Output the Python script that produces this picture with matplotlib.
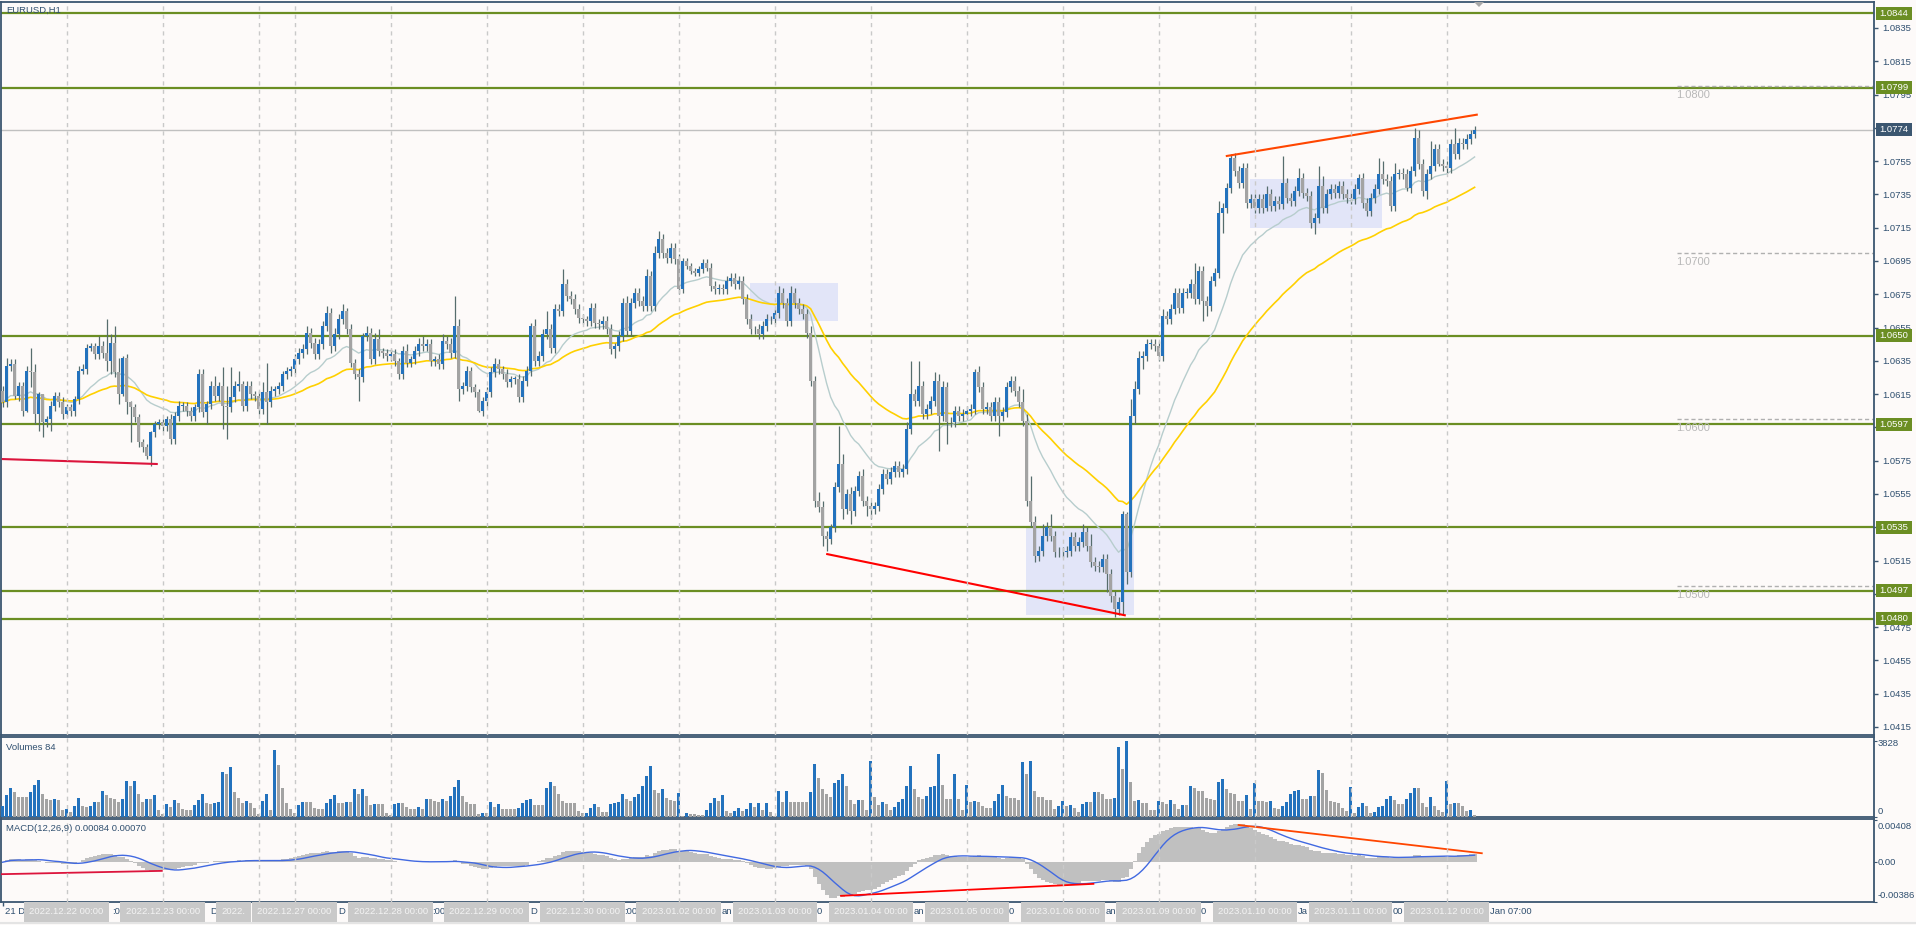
import matplotlib
matplotlib.use("Agg")
import matplotlib.pyplot as plt
import numpy as np
import pandas as pd
from matplotlib.patches import Rectangle, Polygon
from matplotlib.lines import Line2D
from matplotlib.font_manager import FontProperties
from matplotlib.transforms import blended_transform_factory as btf
from datetime import datetime, timedelta

plt.rcParams['font.family'] = ['Liberation Sans', 'DejaVu Sans']

# ------------------------------------------------------------------ data
symbol_label = "EURUSD,H1"
volume_label = "Volumes 84"
macd_label = "MACD(12,26,9) 0.00084 0.00070"

first_open = 1.0617
close = [
    1.0610, 1.0632, 1.0633, 1.0614, 1.0620, 1.0605, 1.0629, 1.0628, 1.0603, 1.0615,
    1.0598, 1.0600, 1.0608, 1.0614, 1.0610, 1.0603, 1.0607, 1.0605, 1.0612, 1.0629,
    1.0630, 1.0643, 1.0644, 1.0639, 1.0644, 1.0640, 1.0635, 1.0646, 1.0628, 1.0615,
    1.0637, 1.0610, 1.0607, 1.0601, 1.0586, 1.0583, 1.0578, 1.0592, 1.0597, 1.0598,
    1.0596, 1.0600, 1.0588, 1.0602, 1.0608, 1.0608, 1.0605, 1.0602, 1.0607, 1.0627,
    1.0604, 1.0609, 1.0620, 1.0614, 1.0620, 1.0608, 1.0607, 1.0613, 1.0620, 1.0621,
    1.0608, 1.0620, 1.0615, 1.0614, 1.0606, 1.0616, 1.0610, 1.0617, 1.0618, 1.0620,
    1.0627, 1.0629, 1.0630, 1.0636, 1.0640, 1.0642, 1.0652, 1.0646, 1.0639, 1.0645,
    1.0656, 1.0664, 1.0644, 1.0651, 1.0660, 1.0665, 1.0654, 1.0634, 1.0627, 1.0625,
    1.0650, 1.0652, 1.0636, 1.0648, 1.0641, 1.0640, 1.0638, 1.0639, 1.0635, 1.0627,
    1.0641, 1.0634, 1.0636, 1.0641, 1.0645, 1.0644, 1.0645, 1.0635, 1.0636, 1.0633,
    1.0647, 1.0645, 1.0640, 1.0656, 1.0618, 1.0620, 1.0629, 1.0619, 1.0616, 1.0605,
    1.0611, 1.0616, 1.0628, 1.0633, 1.0630, 1.0627, 1.0622, 1.0624, 1.0624, 1.0613,
    1.0623, 1.0629, 1.0656, 1.0635, 1.0638, 1.0651, 1.0654, 1.0643, 1.0666, 1.0665,
    1.0681, 1.0674, 1.0672, 1.0666, 1.0661, 1.0660, 1.0659, 1.0667, 1.0658, 1.0657,
    1.0659, 1.0654, 1.0642, 1.0644, 1.0650, 1.0670, 1.0653, 1.0670, 1.0676, 1.0671,
    1.0668, 1.0686, 1.0668, 1.0700, 1.0708, 1.0700, 1.0697, 1.0703, 1.0696, 1.0678,
    1.0695, 1.0692, 1.0689, 1.0688, 1.0690, 1.0694, 1.0691, 1.0680, 1.0678, 1.0679,
    1.0678, 1.0683, 1.0685, 1.0681, 1.0683, 1.0672, 1.0660, 1.0654, 1.0654, 1.0651,
    1.0656, 1.0660, 1.0660, 1.0664, 1.0676, 1.0670, 1.0659, 1.0676, 1.0670, 1.0666,
    1.0663, 1.0652, 1.0623, 1.0551, 1.0547, 1.0530, 1.0528, 1.0535, 1.0559, 1.0573,
    1.0546, 1.0555, 1.0545, 1.0557, 1.0566, 1.0551, 1.0548, 1.0546, 1.0548, 1.0558,
    1.0567, 1.0564, 1.0568, 1.0572, 1.0568, 1.0570, 1.0594, 1.0615, 1.0611, 1.0620,
    1.0603, 1.0606, 1.0611, 1.0623, 1.0602, 1.0619, 1.0598, 1.0598, 1.0605, 1.0602,
    1.0603, 1.0605, 1.0606, 1.0628, 1.0619, 1.0606, 1.0607, 1.0602, 1.0610, 1.0602,
    1.0604, 1.0619, 1.0623, 1.0617, 1.0610, 1.0599, 1.0551, 1.0538, 1.0518, 1.0521,
    1.0530, 1.0535, 1.0530, 1.0520, 1.0520, 1.0520, 1.0521, 1.0529, 1.0524, 1.0526,
    1.0532, 1.0524, 1.0514, 1.0512, 1.0511, 1.0516, 1.0507, 1.0494, 1.0486, 1.0490,
    1.0543, 1.0508, 1.0602, 1.0618, 1.0637, 1.0638, 1.0645, 1.0645, 1.0644, 1.0638,
    1.0662, 1.0660, 1.0666, 1.0676, 1.0667, 1.0676, 1.0676, 1.0681, 1.0672, 1.0689,
    1.0671, 1.0668, 1.0683, 1.0688, 1.0724, 1.0727, 1.0739, 1.0757, 1.0749, 1.0742,
    1.0751, 1.0730, 1.0732, 1.0727, 1.0732, 1.0727, 1.0735, 1.0728, 1.0731, 1.0729,
    1.0742, 1.0733, 1.0731, 1.0737, 1.0745, 1.0736, 1.0734, 1.0718, 1.0721, 1.0740,
    1.0727, 1.0735, 1.0738, 1.0736, 1.0740, 1.0735, 1.0733, 1.0732, 1.0738, 1.0745,
    1.0730, 1.0725, 1.0733, 1.0738, 1.0747, 1.0744, 1.0743, 1.0728, 1.0747, 1.0748,
    1.0747, 1.0739, 1.0749, 1.0769, 1.0753, 1.0737, 1.0747, 1.0752, 1.0762, 1.0753,
    1.0752, 1.0751, 1.0765, 1.0759, 1.0766, 1.0765, 1.0768, 1.0771, 1.0774,
]

# upper / lower shadow lengths in pips
up_wick = [
    3, 5, 3, 3, 2, 2, 3, 14, 5, 1,   0, 2, 3, 2, 2, 3, 2, 2, 2, 3,
    3, 2, 2, 2, 6, 3, 20, 5, 10, 9,  1, 2, 1, 2, 2, 2, 2, 1, 2, 2,
    2, 2, 3, 2, 3, 2, 2, 2, 2, 3,    3, 2, 3, 6, 2, 11, 12, 18, 3, 8,
    2, 3, 3, 2, 3, 6, 18, 3, 2, 2,   2, 2, 2, 3, 3, 3, 4, 3, 3, 3,
    3, 4, 3, 4, 3, 4, 2, 3, 2, 3,    2, 4, 3, 4, 6, 2, 2, 3, 3, 2,
    3, 4, 2, 3, 4, 5, 3, 3, 2, 3,    4, 3, 4, 18, 4, 2, 3, 2, 2, 2,
    2, 3, 3, 4, 3, 2, 3, 2, 2, 3,    3, 3, 2, 4, 3, 3, 11, 3, 3, 3,
    9, 3, 3, 3, 3, 2, 2, 3, 3, 2,    3, 3, 3, 2, 3, 3, 4, 3, 3, 3,
    3, 4, 3, 4, 5, 3, 3, 3, 3, 3,    2, 2, 2, 2, 2, 2, 2, 3, 3, 2,
    2, 3, 3, 3, 3, 3, 3, 3, 2, 3,    3, 3, 2, 2, 4, 3, 3, 4, 3, 3,
    3, 3, 4, 3, 5, 4, 3, 2, 3, 23,   6, 3, 4, 3, 3, 4, 3, 2, 2, 3,
    3, 3, 3, 3, 3, 3, 4, 20, 3, 15,  3, 3, 3, 5, 4, 4, 3, 3, 3, 3,
    3, 3, 3, 2, 4, 3, 3, 3, 3, 3,    3, 3, 3, 3, 3, 8, 4, 15, 4, 3,
    7, 3, 8, 3, 3, 3, 3, 3, 3, 3,    5, 3, 7, 3, 3, 3, 3, 3, 3, 3,
    2, 1, 10, 5, 4, 3, 3, 3, 3, 3,   4, 3, 3, 3, 3, 3, 3, 3, 13, 3,
    3, 3, 3, 3, 7, 3, 3, 2, 3, 3,    3, 3, 3, 3, 3, 3, 5, 3, 3, 3,
    16, 3, 3, 3, 6, 3, 3, 3, 3, 12,  6, 3, 3, 3, 3, 3, 3, 3, 3, 2,
    3, 3, 3, 3, 10, 8, 3, 3, 7, 2,   3, 3, 3, 6, 5, 3, 3, 15, 3, 3,
    3, 3, 3, 10, 3, 3, 3, 3, 2,
]
dn_wick = [
    3, 3, 3, 2, 3, 3, 1, 9, 6, 10,   9, 3, 7, 3, 3, 3, 2, 3, 3, 3,
    2, 3, 2, 3, 3, 3, 6, 8, 3, 6,    1, 7, 21, 3, 3, 3, 2, 6, 3, 3,
    3, 3, 3, 3, 3, 3, 3, 3, 3, 3,    3, 7, 3, 3, 3, 14, 19, 3, 3, 3,
    3, 3, 3, 3, 3, 3, 13, 3, 3, 3,   3, 3, 3, 3, 3, 3, 3, 3, 3, 3,
    3, 3, 4, 3, 3, 3, 3, 3, 3, 14,   3, 3, 3, 3, 3, 3, 3, 3, 3, 3,
    3, 3, 3, 3, 3, 3, 3, 3, 3, 3,    3, 3, 3, 3, 7, 3, 3, 3, 3, 1,
    3, 3, 3, 3, 3, 3, 3, 3, 3, 3,    3, 3, 3, 3, 3, 3, 3, 3, 3, 3,
    3, 3, 3, 3, 3, 3, 3, 3, 3, 3,    3, 3, 3, 5, 3, 3, 3, 3, 3, 3,
    3, 3, 3, 3, 3, 3, 3, 3, 3, 3,    2, 2, 2, 2, 2, 2, 2, 3, 3, 3,
    3, 3, 3, 3, 3, 3, 3, 3, 3, 3,    3, 3, 3, 3, 3, 3, 3, 3, 3, 3,
    3, 3, 3, 4, 3, 6, 7, 3, 3, 3,    6, 3, 8, 3, 3, 3, 6, 6, 3, 3,
    3, 3, 3, 3, 3, 3, 3, 3, 3, 3,    3, 3, 3, 3, 21, 3, 13, 3, 3, 3,
    3, 3, 3, 3, 3, 3, 3, 3, 3, 12,   3, 3, 3, 3, 3, 3, 3, 3, 4, 3,
    3, 3, 3, 3, 3, 3, 3, 3, 3, 3,    3, 3, 3, 3, 3, 3, 11, 4, 5, 4,
    8, 7, 3, 5, 3, 7, 3, 3, 3, 3,    3, 3, 3, 3, 3, 3, 3, 3, 3, 3,
    12, 6, 3, 3, 3, 12, 3, 3, 3, 3,  3, 3, 3, 3, 3, 3, 2, 3, 3, 3,
    3, 3, 3, 3, 3, 3, 3, 3, 7, 3,    3, 3, 3, 3, 3, 3, 3, 3, 3, 3,
    3, 3, 3, 3, 3, 3, 3, 3, 3, 3,    3, 2, 3, 3, 3, 3, 5, 3, 3, 1,
    3, 3, 3, 3, 3, 3, 3, 3, 2,
]

volume = [
    540, 1090, 1430, 1240, 990, 990, 990, 1240, 1580, 1830,
    1160, 870, 820, 870, 820, 340, 370, 235, 540, 960,
    540, 500, 540, 740, 740, 1290, 1090, 960, 870, 740,
    890, 1800, 1560, 1800, 1160, 740, 890, 890, 1090, 340,
    150, 640, 470, 840, 670, 370, 340, 340, 570, 840,
    1140, 700, 640, 670, 740, 2250, 2150, 2500, 1240, 960,
    700, 790, 670, 440, 120, 790, 1160, 340, 3360, 2600,
    1440, 670, 370, 170, 590, 740, 740, 740, 440, 370,
    370, 700, 910, 1090, 700, 700, 740, 740, 1390, 1160,
    1390, 1060, 590, 640, 640, 640, 200, 90, 640, 700,
    700, 470, 400, 400, 500, 400, 890, 890, 790, 740,
    890, 790, 1020, 1510, 1830, 1060, 740, 640, 640, 150,
    200, 170, 740, 500, 640, 400, 400, 370, 370, 440,
    700, 840, 890, 570, 570, 570, 1430, 1750, 1550, 1160,
    790, 700, 700, 700, 270, 170, 200, 440, 640, 470,
    235, 235, 640, 690, 740, 1160, 890, 790, 990, 1160,
    1550, 2050, 2550, 1340, 1190, 1390, 940, 840, 790, 1190,
    50, 200, 130, 120, 80, 70, 340, 690, 920, 790,
    1090, 290, 200, 290, 440, 290, 390, 690, 500, 690,
    340, 690, 235, 30, 1290, 740, 1290, 740, 740, 740,
    740, 740, 1240, 2650, 1950, 1390, 1140, 990, 1700, 1850,
    2150, 1550, 840, 640, 840, 840, 340, 2800, 990, 590,
    740, 640, 340, 490, 740, 890, 1550, 2550, 1390, 990,
    890, 1040, 1500, 1550, 3160, 1600, 890, 890, 2150, 890,
    340, 1600, 740, 790, 740, 540, 440, 440, 790, 1140,
    1600, 1040, 940, 940, 840, 2750, 2150, 2800, 1300, 990,
    990, 840, 840, 390, 540, 790, 540, 590, 440, 235,
    640, 740, 740, 1240, 1240, 1140, 890, 890, 940, 3510,
    2400, 3800, 1750, 790, 840, 690, 690, 340, 340, 790,
    740, 640, 840, 640, 390, 590, 590, 1550, 1440, 1290,
    1290, 920, 890, 840, 1750, 1900, 1390, 1190, 1140, 790,
    790, 1090, 390, 1700, 790, 790, 740, 790, 420, 390,
    540, 740, 1140, 1290, 1340, 890, 890, 1040, 1040, 2350,
    2200, 1340, 790, 740, 670, 440, 290, 1500, 185, 490,
    690, 540, 185, 235, 490, 540, 890, 1040, 840, 640,
    640, 890, 1190, 1440, 1440, 690, 490, 990, 540, 340,
    235, 1800, 640, 690, 690, 540, 290, 340, 85,
]

# trading sessions: (date, first hour, number of H1 bars)
sessions = [
    ("2022-12-21", 8, 16), ("2022-12-22", 0, 24), ("2022-12-23", 0, 24),
    ("2022-12-26", 0, 9), ("2022-12-27", 0, 24), ("2022-12-28", 0, 24),
    ("2022-12-29", 0, 24), ("2022-12-30", 0, 24), ("2023-01-02", 0, 24),
    ("2023-01-03", 0, 24), ("2023-01-04", 0, 24), ("2023-01-05", 0, 24),
    ("2023-01-06", 0, 24), ("2023-01-09", 0, 24), ("2023-01-10", 0, 24),
    ("2023-01-11", 0, 24), ("2023-01-12", 0, 8),
]

green_levels = [1.0844, 1.0799, 1.0650, 1.0597, 1.0535, 1.0497, 1.0480]
current_price = 1.0774
round_levels = [1.0800, 1.0700, 1.0600, 1.0500]
price_ticks = [1.0835, 1.0815, 1.0795, 1.0775, 1.0755, 1.0735, 1.0715, 1.0695,
               1.0675, 1.0655, 1.0635, 1.0615, 1.0595, 1.0575, 1.0555, 1.0535,
               1.0515, 1.0495, 1.0475, 1.0455, 1.0435, 1.0415]
# scale labels lying (almost) fully under the price boxes
hidden_ticks = [1.0775, 1.0595, 1.0535, 1.0495]
vol_max_label = 3828
macd_max_label = 0.00408
macd_min_label = -0.00386

# drawn objects (bar index, value)
main_trends = [((-0.2, 1.0576), (38.8, 1.0573), "#dc143c"),
               ((205.9, 1.0519), (280.8, 1.0482), "#ff0000"),
               ((305.8, 1.0758), (368.8, 1.0783), "#ff4500")]
macd_trends = [((-0.2, -0.00116), (39.8, -0.00084), "#dc143c"),
               ((209.6, -0.00326), (272.7, -0.00210), "#ff0000"),
               ((309.0, 0.00361), (369.8, 0.00087), "#ff4500")]
boxes = [(186.85, 208.8, 1.0659, 1.0682),
         (255.85, 282.85, 1.0482, 1.0535),
         (311.85, 344.85, 1.0715, 1.0744)]

# ------------------------------------------------------------------ style
W, H = 1916, 925
BG = "#fdfaf9"
FRAME = "#3b5670"
TXT = "#2f4f6f"
BLUE = "#2372bd"
GREY = "#a3a3a3"
WICK = "#566d6d"
OLIVE = "#6b8e23"
SEP = "#c9c9c9"
FS = 6.8

fig = plt.figure(figsize=(W / 100, H / 100), dpi=100)
fig.patch.set_facecolor(BG)


def rect(top, bottom, left=1, right=1874):
    return [left / W, 1 - bottom / H, (right - left) / W, (bottom - top) / H]


ax = fig.add_axes(rect(2, 735))
axv = fig.add_axes(rect(737, 817))
axm = fig.add_axes(rect(819, 902))

n = len(close)
x = np.arange(n)
c = np.array(close)
o = np.concatenate([[first_open], c[:-1]])
hi = np.maximum(o, c) + np.array(up_wick) * 1e-4
lo = np.minimum(o, c) - np.array(dn_wick) * 1e-4
bull = c >= o

XMIN, XMAX = (1 - 2.6) / 4, (1874 - 2.6) / 4
PX = 16643.0  # pixels per price unit
for a in (ax, axv, axm):
    a.set_facecolor(BG)
    a.set_xlim(XMIN, XMAX)
    for s in a.spines.values():
        s.set_color(FRAME)
        s.set_linewidth(1.3)
    a.tick_params(axis="x", bottom=False, labelbottom=False)

ax.set_ylim(1.0844 - (735 - 13) / PX, 1.0844 + 11 / PX)

# time axis
times = []
day_starts = []
for d, h0, nb in sessions:
    base = datetime.strptime(d, "%Y-%m-%d")
    day_starts.append(len(times))
    for k in range(nb):
        times.append(base + timedelta(hours=h0 + k))
day_starts = day_starts[1:]

# boxes
for x0, x1, y0, y1 in boxes:
    ax.add_patch(Rectangle((x0, y0), x1 - x0, y1 - y0, fc="#e2e5f8", ec="none", zorder=1))

# horizontal lines
for lv in green_levels:
    ax.axhline(lv, color=OLIVE, lw=1.6, zorder=2)
ax.axhline(current_price, color="#c0c0c0", lw=1.0, zorder=2)
rx0 = (1677 - 2.6) / 4
for lv in round_levels:
    ax.hlines(lv, rx0, XMAX, colors="#b0b0b0", linestyles=(0, (3, 2)), lw=1, zorder=2)
    ax.text(rx0 - 0.3, lv - 9 / PX, f"{lv:.4f}", color="#b8b8b8", fontsize=8,
            va="center", ha="left", zorder=2)

# moving averages
s = pd.Series(c)
ema20 = s.ewm(span=20, adjust=False).mean()
ema50 = s.ewm(span=50, adjust=False).mean()
ax.plot(x, ema20, color="#b7cdcd", lw=1.0, zorder=3)
ax.plot(x, ema50, color="#ffd000", lw=1.2, zorder=3)

# candles
ax.vlines(x, lo, hi, color=WICK, lw=0.9, zorder=4)
bb = np.minimum(o, c)
bh = np.maximum(np.abs(c - o), 0.7 / PX)
ax.bar(x[bull], bh[bull], bottom=bb[bull], width=0.72, color=BLUE, lw=0, zorder=5)
ax.bar(x[~bull], bh[~bull], bottom=bb[~bull], width=0.72, color=GREY, lw=0, zorder=5)

for (x0, y0), (x1, y1), col in main_trends:
    ax.plot([x0, x1], [y0, y1], color=col, lw=1.5, zorder=6, solid_capstyle="butt")

# price axis
ax.yaxis.tick_right()
ax.set_yticks(price_ticks)
ax.set_yticklabels(["" if v in hidden_ticks else f"{v:.4f}" for v in price_ticks])
ax.tick_params(axis="y", direction="out", length=3, width=1, pad=3, labelsize=FS,
               labelcolor=TXT, color=FRAME)

trp = btf(fig.transFigure, ax.transData)
for lv in green_levels + [current_price]:
    col = FRAME if lv == current_price else OLIVE
    ax.add_patch(Rectangle((1876 / W, lv - 6.5 / PX), 36 / W, 13 / PX, transform=trp,
                           fc=col, ec="none", clip_on=False, zorder=10))
    ax.text(1879 / W, lv, f"{lv:.4f}", transform=trp, color="white", fontsize=FS,
            va="center", ha="left", zorder=11, clip_on=False)

# volumes
vol = np.array(volume)
vcol = [BLUE if i > 0 and vol[i] > vol[i - 1] else GREY for i in range(n)]
vcol[0] = BLUE
axv.bar(x, vol, width=0.6, color=vcol, lw=0, zorder=3)
axv.set_ylim((816.7 - 817) / 0.01985, (816.7 - 737) / 0.01985)
axv.yaxis.tick_right()
axv.set_yticks([0, vol_max_label])
axv.set_yticklabels(["", ""])
axv.tick_params(axis="y", direction="out", length=2, color=FRAME)

# MACD
ema12 = s.ewm(span=12, adjust=False).mean()
ema26 = s.ewm(span=26, adjust=False).mean()
macd = ema12 - ema26
signal = macd.rolling(9, min_periods=1).mean()
axm.bar(x, macd, width=1.0, color="#c0c0c0", lw=0, zorder=2)
axm.plot(x, signal, color="#4169e1", lw=1.0, zorder=3)
for (x0, y0), (x1, y1), col in macd_trends:
    axm.plot([x0, x1], [y0, y1], color=col, lw=1.3, zorder=4)
MP = 10330.0
axm.set_ylim((862.3 - 902) / MP, (862.3 - 819) / MP)
axm.yaxis.tick_right()
axm.set_yticks([macd_min_label, 0, macd_max_label])
axm.set_yticklabels(["", "", ""])
axm.tick_params(axis="y", direction="out", length=2, color=FRAME)

# day separators
for a in (ax, axv, axm):
    for d in day_starts:
        a.axvline(d, color=SEP, lw=1, ls=(0, (3, 3)), zorder=7)

# panel captions
fig.text(6 / W, 1 - 10 / H, symbol_label, color=TXT, fontsize=FS, va="center")
fig.text(6 / W, 1 - 747 / H, volume_label, color=TXT, fontsize=FS, va="center")
fig.text(6 / W, 1 - 828.5 / H, macd_label, color=TXT, fontsize=FS, va="center")

# right scale labels of sub panels
fig.text(1878 / W, 1 - 744 / H, f"{vol_max_label}", color=TXT, fontsize=FS, va="center")
fig.text(1878 / W, 1 - 811 / H, "0", color=TXT, fontsize=FS, va="center")
fig.text(1878 / W, 1 - 826.7 / H, f"{macd_max_label:.5f}", color=TXT, fontsize=FS, va="center")
fig.text(1878 / W, 1 - 862.3 / H, "0.00", color=TXT, fontsize=FS, va="center")
fig.text(1878 / W, 1 - 895.7 / H, f"{macd_min_label:.5f}", color=TXT, fontsize=FS, va="center")

# ---------------------------------------------------------------- time axis
tick_idx = list(range(0, n, 16))
axm.set_xticks(tick_idx)
axm.tick_params(axis="x", bottom=True, direction="out", length=3, width=1, color=FRAME,
                labelbottom=False)

fp = FontProperties(family="Liberation Sans", size=FS)
fig.canvas.draw()
rend = fig.canvas.get_renderer()


def tw(txt):
    """advance width (pixels) of a string, trailing spaces included"""
    w1 = rend.get_text_width_height_descent(txt + "|", fp, ismath=False)[0]
    w0 = rend.get_text_width_height_descent("|", fp, ismath=False)[0]
    return w1 - w0


YT = 1 - 912 / H
PADB = 4.0
box_labels = [times[i].strftime("%Y.%m.%d %H:%M") for i in day_starts]
box_cx = [2.6 + 4 * i for i in day_starts]
box_span = []
for lab, cx in zip(box_labels, box_cx):
    w = tw(lab)
    box_span.append((cx - w / 2 - PADB, cx + w / 2 + PADB))

# grey object labels (later ones drawn on top of earlier ones)
for k, (lab, cx) in enumerate(zip(box_labels, box_cx)):
    w = tw(lab)
    x0 = cx - w / 2
    if k + 1 < len(box_span) and box_span[k + 1][0] < box_span[k][1]:
        limit = box_span[k + 1][0] - PADB
        m = len(lab)
        while m > 0 and x0 + tw(lab[:m]) > limit:
            m -= 1
        lab = lab[:m].rstrip()
        if not lab:
            continue
    fig.text(x0 / W, YT, lab, color="#f4f4f4", fontsize=FS, va="center", ha="left",
             zorder=2 + k, bbox=dict(boxstyle="square,pad=0.55", fc="#c9c9c9", ec="none"))

# regular time labels, showing only the parts not hidden by the grey labels
for k, i in enumerate(tick_idx):
    t = times[i]
    lab = t.strftime("%d %b %Y") if k == 0 else f"{t.day} {t.strftime('%b %H:%M')}"
    xs = 2.6 + 4 * i + 2
    vis = []
    for j in range(len(lab)):
        a0 = xs + tw(lab[:j])
        a1 = xs + tw(lab[:j + 1])
        hidden = any(a1 > b0 and a0 < b1 for b0, b1 in box_span)
        vis.append(not hidden)
    j = 0
    while j < len(lab):
        if vis[j]:
            j2 = j
            while j2 < len(lab) and vis[j2]:
                j2 += 1
            piece = lab[j:j2]
            lead = len(piece) - len(piece.lstrip())
            core = piece.strip()
            if core:
                px = xs + tw(lab[:j + lead])
                fig.text(px / W, YT, core, color=TXT, fontsize=FS, va="center",
                         ha="left", zorder=1)
            j = j2
        else:
            j += 1

# chart shift marker
tri = Polygon([(1474 / W, 1 - 2 / H), (1484 / W, 1 - 2 / H), (1479 / W, 1 - 7 / H)],
              closed=True, transform=fig.transFigure, fc="#a8a8a8", ec="none")
fig.add_artist(tri)
fig.add_artist(Line2D([0, 1], [1 - 922.5 / H] * 2, transform=fig.transFigure,
                      color="#e4e4e4", lw=1.5))

fig.savefig("out.png", dpi=100, facecolor=BG)
